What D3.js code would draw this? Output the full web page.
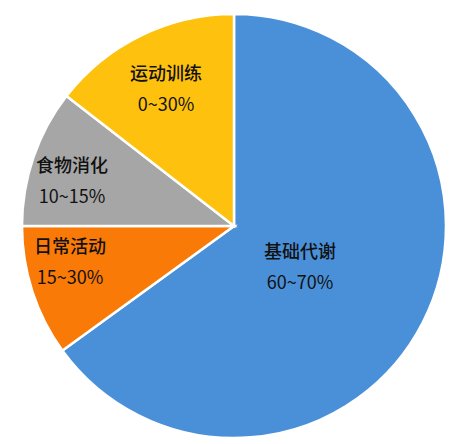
<!DOCTYPE html><html><head><meta charset="utf-8"><script src="https://d3js.org/d3.v7.min.js"></script>
<style>body{margin:0;background:#fff}</style></head><body><svg width="454" height="444"></svg>
<script>
const names=["基础代谢","日常活动","食物消化","运动训练"];
const ranges=["60~70%","15~30%","10~15%","0~30%"];
const shares=[65,10,10.5,14.5];
const colors=["#4a90d9","#f97a06","#a6a6a6","#fdc10e"];
const labelPos=[[300,258],[70,253],[72,172],[166,80]];
const svg=d3.select("svg");
const g=svg.append("g").attr("transform","translate(234,226)");
const pie=d3.pie().sort(null).value(d=>d)(shares);
const arc=d3.arc().innerRadius(0).outerRadius(212);
g.selectAll("path").data(pie).join("path").attr("d",arc).attr("fill",(d,i)=>colors[i]).attr("stroke","#fff").attr("stroke-width",2.5);
names.forEach((n,i)=>{
 const t=svg.append("text").attr("x",labelPos[i][0]).attr("y",labelPos[i][1]).attr("text-anchor","middle").attr("font-family","Noto Sans CJK SC").attr("font-size",18).attr("fill","#111");
 t.append("tspan").attr("font-weight",500).text(n);
 t.append("tspan").attr("x",labelPos[i][0]).attr("dy",31).text(ranges[i]);
});
</script></body></html>
